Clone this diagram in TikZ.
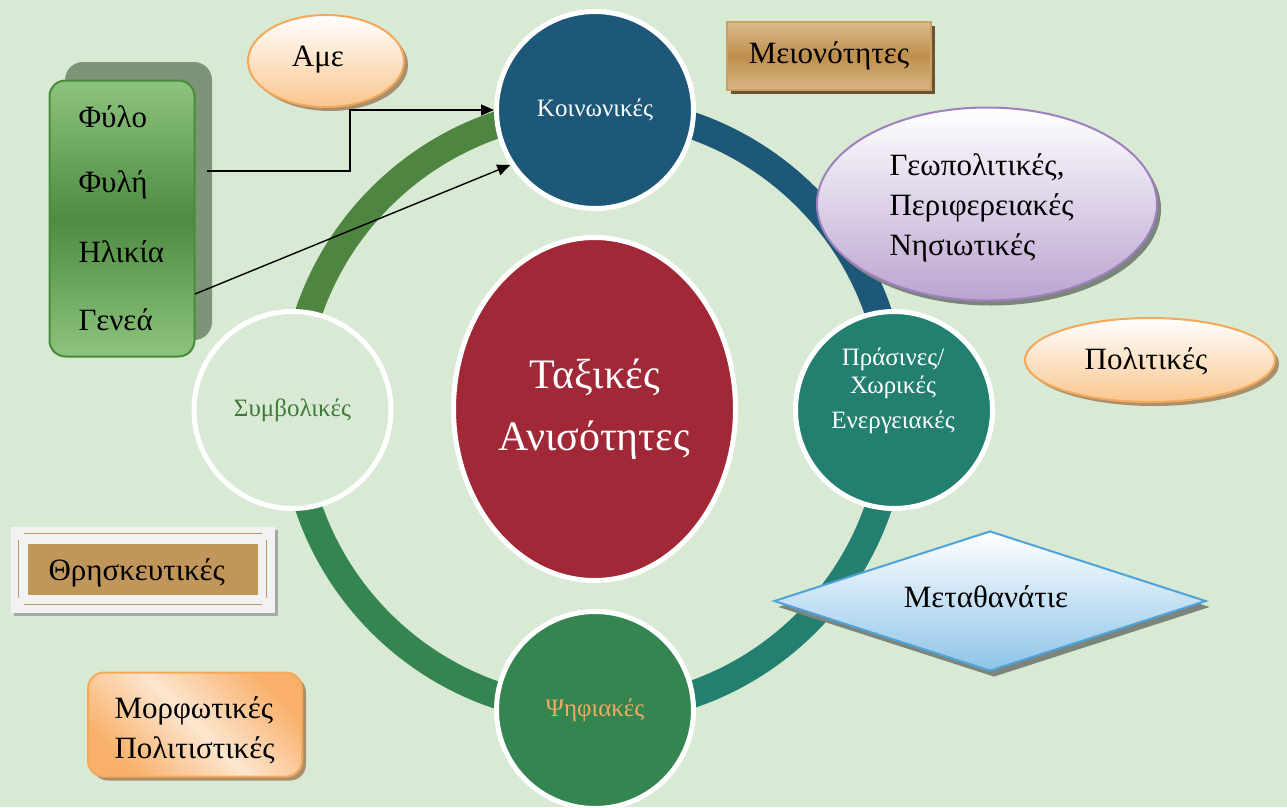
\documentclass[tikz,border=0pt]{standalone}
\usepackage{fontspec}
\setmainfont{Liberation Serif}
\usetikzlibrary{arrows.meta,shapes.geometric,shadows,calc}
\definecolor{bg}{HTML}{D9EAD4}
\definecolor{ringA}{HTML}{4E8540}
\definecolor{ringB}{HTML}{1D5879}
\definecolor{ringC}{HTML}{237F70}
\definecolor{ringD}{HTML}{358550}
\definecolor{redc}{HTML}{A02837}
\definecolor{symb}{HTML}{3E7A3A}
\definecolor{psif}{HTML}{F0AA62}
\definecolor{peach}{HTML}{FAC68E}
\definecolor{peachB}{HTML}{F5A85A}
\definecolor{shbrown}{HTML}{A8906E}
\definecolor{gLight}{HTML}{8DC47F}
\definecolor{gDark}{HTML}{4F8B41}
\definecolor{gBorder}{HTML}{4A8A3C}
\definecolor{gShadow}{HTML}{7E9479}
\definecolor{tanT}{HTML}{DBBC8F}
\definecolor{tanM}{HTML}{BE8E4C}
\definecolor{tanB}{HTML}{D8B586}
\definecolor{tanD}{HTML}{6E5330}
\definecolor{tanBorder}{HTML}{C9A162}
\definecolor{lav}{HTML}{BBA4D0}
\definecolor{lavB}{HTML}{9F80BF}
\definecolor{skyB}{HTML}{4FA3DB}
\definecolor{sky}{HTML}{8EC4E8}
\definecolor{grayS}{HTML}{7C857C}
\definecolor{frame}{HTML}{F2F2F2}
\definecolor{frameL}{HTML}{B89A6A}
\definecolor{relig}{HTML}{C0965A}
\definecolor{morfO}{HTML}{F8B06A}
\definecolor{morfL}{HTML}{FDE6CF}
\tikzset{
  ringseg/.style={line width=27pt},
  bigcirc/.style={circle, draw=white, line width=5pt, minimum size=197pt, inner sep=0pt, text=white, font=\fontsize{25}{30}\selectfont},
  outtext/.style={font=\fontsize{31}{36}\selectfont, text=black},
  arrowline/.style={line width=1.4pt, -{Triangle[length=13pt,width=11pt]}},
  peachell/.style={ellipse, draw=peachB, line width=2pt, top color=white, bottom color=peach, inner sep=0pt,
     drop shadow={shadow xshift=4pt, shadow yshift=-4pt, fill=shbrown, opacity=1}},
}
\begin{document}
\begin{tikzpicture}[x=1pt,y=-1pt]
\useasboundingbox[fill=bg] (0,0) rectangle (1287,807);

% ring
\coordinate (rc) at (593.5,410);
\draw[ringseg, ringA] (rc) ++(180:301) arc[start angle=180, end angle=270, radius=301];
\draw[ringseg, ringB] (rc) ++(270:301) arc[start angle=270, end angle=360, radius=301];
\draw[ringseg, ringC] (rc) ++(0:301) arc[start angle=0, end angle=90, radius=301];
\draw[ringseg, ringD] (rc) ++(90:301) arc[start angle=90, end angle=180, radius=301];

% circles
\node[bigcirc, fill=ringB] (koin) at (595,110) {Κοινωνικές};
\node[bigcirc, fill=ringC] (pras) at (894,410) {};
\node[font=\fontsize{25}{28}\selectfont, text=white, align=center] (prast) at (893,391) {Πράσινες/\\Χωρικές\\[7pt]Ενεργειακές};
\node[bigcirc, fill=bg, text=symb] (symbc) at (292.5,410) {Συμβολικές};
\node[bigcirc, fill=ringD, text=psif] (psi) at (595,710) {Ψηφιακές};

% center ellipse
\node[ellipse, draw=white, line width=5pt, fill=redc, minimum width=282pt, minimum height=343pt, inner sep=0pt,
  text=white, align=center, font=\fontsize{42}{62}\selectfont] (tax) at (594.5,409) {Ταξικές\\Ανισότητες};

% green list box
\node[fill=gShadow, rounded corners=18pt, minimum width=147pt, minimum height=278pt, inner sep=0pt] (gsh) at (138.5,201) {};
\node[draw=gBorder, line width=2pt, rounded corners=16pt, minimum width=145pt, minimum height=276pt, inner sep=0pt,
  shading=axis, top color=gLight, bottom color=gLight, middle color=gDark] (gbox) at (122,218.5) {};
\node[outtext, anchor=west] (fylo) at (75,117) {Φύλο};
\node[outtext, anchor=west] (fyli) at (75,185) {Φυλή};
\node[outtext, anchor=west] (ilik) at (75,252) {Ηλικία};
\node[outtext, anchor=west] (gene) at (75,320) {Γενεά};

% Ame ellipse
\node[peachell, minimum width=156pt, minimum height=92pt] (ame) at (326,61) {};
\node[outtext] (amet) at (318,60) {Αμε};

% connectors
\coordinate (s1) at (207,171);
\coordinate (s2) at (195,294);
\draw[arrowline] (s1) -- ++(143,0) |- (koin.west);
\draw[arrowline] (s2) -- (koin.213);

% Meionotites
\node[draw=tanBorder, line width=1.5pt, minimum width=204pt, minimum height=68pt, inner sep=0pt,
  shading=axis, top color=tanT, bottom color=tanB, middle color=tanM,
  drop shadow={shadow xshift=4pt, shadow yshift=-4pt, fill=tanD, opacity=1}, outtext] (meio) at (829,56) {Μειονότητες};

% Geopolitikes
\node[ellipse, draw=lavB, line width=2pt, minimum width=340pt, minimum height=193pt, inner sep=0pt,
  top color=white, bottom color=lav,
  drop shadow={shadow xshift=4pt, shadow yshift=-5pt, fill=grayS, opacity=1}] (geo) at (987,204) {};
\node[outtext, anchor=west, align=left, font=\fontsize{31}{40}\selectfont] (geot) at (886,208) {Γεωπολιτικές,\\Περιφερειακές\\Νησιωτικές};

% Politikes
\node[peachell, minimum width=250pt, minimum height=84pt] (pol) at (1150,360) {};
\node[outtext] (polt) at (1146,361) {Πολιτικές};

% Metathanatie diamond
\node[diamond, draw=skyB, line width=2pt, minimum width=432pt, minimum height=140pt, inner sep=0pt, aspect=3,
  top color=white, bottom color=sky,
  drop shadow={shadow xshift=4pt, shadow yshift=-6pt, fill=grayS, opacity=1}] (meta) at (990,601) {};
\node[outtext] (metat) at (986,597) {Μεταθανάτιε};

% Thriskeftikes
\node[fill=frame, minimum width=264pt, minimum height=86pt, inner sep=0pt,
  drop shadow={shadow xshift=3pt, shadow yshift=-3pt, fill=grayS!70, opacity=1}] (thrf) at (142.5,570) {};
\draw[frameL, line width=0.8pt] ($(thrf.north west)+(14,7)$) -- ($(thrf.north east)+(-13,7)$);
\draw[frameL, line width=0.8pt] ($(thrf.south west)+(14,-9)$) -- ($(thrf.south east)+(-13,-9)$);
\draw[frameL, line width=0.8pt] ($(thrf.north west)+(8,13)$) -- ($(thrf.south west)+(8,-15)$);
\draw[frameL, line width=0.8pt] ($(thrf.north east)+(-8,13)$) -- ($(thrf.south east)+(-8,-15)$);
\node[fill=relig, minimum width=230pt, minimum height=51pt, inner sep=0pt] (thri) at (143,569.5) {};
\node[outtext, anchor=west] (thrt) at (45,573) {Θρησκευτικές};

% Morfotikes
\node[draw=peachB, line width=2pt, rounded corners=16pt, minimum width=214pt, minimum height=104pt, inner sep=0pt,
  shading=axis, left color=morfO, right color=morfO, middle color=morfL, shading angle=-45,
  drop shadow={shadow xshift=4pt, shadow yshift=-4pt, fill=shbrown, opacity=1}] (morf) at (195,724.5) {};
\node[outtext, anchor=west, align=left, font=\fontsize{31}{40}\selectfont] (morft) at (111,730) {Μορφωτικές\\Πολιτιστικές};
\end{tikzpicture}
\end{document}
